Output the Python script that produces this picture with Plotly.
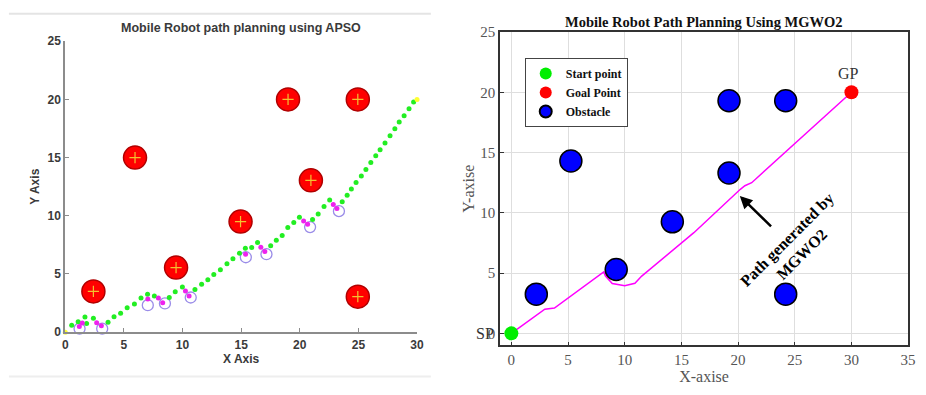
import plotly.graph_objects as go

# ---------------- Left chart (APSO) data ----------------
apso_obs_x = [2.4, 5.95, 9.45, 14.95, 19.0, 20.95, 24.95, 24.95]
apso_obs_y = [3.5, 15.0, 5.55, 9.5, 20.0, 13.05, 20.0, 3.05]

apso_path_x = [0.55, 1.1, 1.68, 1.82, 2.4, 3.65, 4.16, 4.72, 5.28, 5.9, 6.46, 7.02, 7.6,
               8.87, 9.38, 9.99, 11.06, 11.63, 12.16, 12.67, 13.23, 13.79, 14.3, 14.86,
               15.36, 15.9, 16.4, 17.52, 18.0, 18.5, 18.98, 19.49, 19.97, 21.09, 21.57,
               22.07, 22.55, 23.62, 24.04, 24.4, 24.8, 25.25, 25.64, 26.06, 26.48, 26.85,
               27.27, 27.7, 28.11, 28.48, 28.9, 29.32, 29.71]
apso_path_y = [0.6, 0.9, 1.3, 0.75, 1.2, 0.85, 1.33, 1.63, 2.1, 2.43, 2.93, 3.27, 3.1,
               2.98, 3.48, 3.89, 3.67, 4.12, 4.5, 4.95, 5.36, 5.88, 6.32, 6.79,
               7.22, 7.27, 7.7, 7.43, 7.9, 8.31, 9.0, 9.42, 9.88, 9.69, 10.16,
               10.8, 11.35, 11.21, 11.76, 12.3, 12.87, 13.42, 13.97, 14.58, 15.16, 15.68,
               16.26, 16.87, 17.48, 18.06, 18.6, 19.2, 19.78]

apso_detour_x = [1.2, 1.45, 2.68, 3.08, 7.04, 7.94, 8.31, 10.25, 10.56, 15.38, 16.68, 17.02,
                 20.33, 20.67, 22.86, 23.17]
apso_detour_y = [0.5, 0.78, 0.82, 0.55, 2.86, 2.93, 2.54, 3.54, 3.12, 6.7, 7.29, 6.93,
                 9.55, 9.28, 10.98, 10.62]

apso_check_x = [1.22, 3.15, 7.04, 8.5, 10.7, 15.4, 17.16, 20.88, 23.34]
apso_check_y = [0.3, 0.3, 2.32, 2.47, 2.98, 6.44, 6.7, 9.03, 10.4]

apso_ends_x = [0, 30]
apso_ends_y = [0, 20]

# ---------------- Right chart (MGWO2) data ----------------
mgwo_obs_x = [2.2, 5.25, 9.25, 14.2, 19.2, 19.2, 24.2, 24.2]
mgwo_obs_y = [3.25, 14.3, 5.3, 9.25, 19.3, 13.3, 19.3, 3.25]

mgwo_path_x = [0, 2.95, 3.8, 8.15, 8.3, 8.9, 10.0, 10.9, 11.5, 15.67, 16.1, 20.2, 20.6, 21.2, 30]
mgwo_path_y = [0, 2.0, 2.1, 5.1, 4.75, 4.14, 3.95, 4.16, 4.75, 8.08, 8.35, 11.95, 12.25, 12.5, 20]

start_pt = (0, 0)
goal_pt = (30, 20)

left_ticks_x = [0, 5, 10, 15, 20, 25, 30]
left_ticks_y = [0, 5, 10, 15, 20, 25]
right_ticks_x = [0, 5, 10, 15, 20, 25, 30, 35]
right_ticks_y = [0, 5, 10, 15, 20, 25]

SANS = "Liberation Sans"
SERIF = "Liberation Serif"
W, H = 926, 395

fig = go.Figure()

# ---- Left traces ----
fig.add_trace(go.Scatter(x=apso_obs_x, y=apso_obs_y, mode="markers", xaxis="x", yaxis="y",
                         marker=dict(size=23, color="#ff0000", line=dict(color="#b00000", width=1.5)),
                         showlegend=False, cliponaxis=False))
fig.add_trace(go.Scatter(x=apso_obs_x, y=apso_obs_y, mode="markers", xaxis="x", yaxis="y",
                         marker=dict(size=8, symbol="cross-thin", line=dict(color="#f2c230", width=1.2)),
                         showlegend=False, cliponaxis=False))
fig.add_trace(go.Scatter(x=apso_check_x, y=apso_check_y, mode="markers", xaxis="x", yaxis="y",
                         marker=dict(size=11, symbol="circle-open", color="#9a8ce8", line=dict(width=1.3)),
                         showlegend=False, cliponaxis=False))
fig.add_trace(go.Scatter(x=apso_path_x, y=apso_path_y, mode="markers", xaxis="x", yaxis="y",
                         marker=dict(size=5, color="#22ee22"),
                         showlegend=False, cliponaxis=False))
fig.add_trace(go.Scatter(x=apso_detour_x, y=apso_detour_y, mode="markers", xaxis="x", yaxis="y",
                         marker=dict(size=5, color="#ee22ee"),
                         showlegend=False, cliponaxis=False))
fig.add_trace(go.Scatter(x=apso_ends_x, y=apso_ends_y, mode="markers", xaxis="x", yaxis="y",
                         marker=dict(size=5, color="#ffff33"),
                         showlegend=False, cliponaxis=False))

# ---- Right traces ----
fig.add_trace(go.Scatter(x=mgwo_path_x, y=mgwo_path_y, mode="lines", xaxis="x2", yaxis="y2",
                         line=dict(color="#ff00ff", width=1.5), showlegend=False))
fig.add_trace(go.Scatter(x=[start_pt[0]], y=[start_pt[1]], mode="markers", xaxis="x2", yaxis="y2",
                         name="Start point", marker=dict(size=14, color="#00ee00")))
fig.add_trace(go.Scatter(x=[goal_pt[0]], y=[goal_pt[1]], mode="markers", xaxis="x2", yaxis="y2",
                         name="Goal Point", marker=dict(size=14, color="#ff0000")))
fig.add_trace(go.Scatter(x=mgwo_obs_x, y=mgwo_obs_y, mode="markers", xaxis="x2", yaxis="y2",
                         name="Obstacle",
                         marker=dict(size=22, color="#0000ff", line=dict(color="#000000", width=1.5))))

left_font = dict(family=SANS, size=12, color="#3a3a3a", weight="bold")
right_font = dict(family=SERIF, size=15, color="#555555")

fig.update_layout(
    width=W, height=H, margin=dict(l=0, r=0, t=0, b=0),
    paper_bgcolor="white", plot_bgcolor="white",
    xaxis=dict(domain=[63 / W, 419 / W], range=[0, 30], anchor="y",
               showline=True, linecolor="#8c8c8c", linewidth=2, mirror=False,
               ticks="inside", ticklen=4, tickcolor="#8c8c8c",
               tickvals=left_ticks_x, showgrid=False, zeroline=False,
               tickfont=left_font,
               title=dict(text="X Axis", font=left_font, standoff=2)),
    yaxis=dict(domain=[1 - 337 / H, 1 - 34.5 / H], range=[0, 25], anchor="x",
               showline=True, linecolor="#8c8c8c", linewidth=2, mirror=False,
               ticks="inside", ticklen=4, tickcolor="#8c8c8c",
               tickvals=left_ticks_y, showgrid=False, zeroline=False,
               tickfont=left_font,
               title=dict(text="Y Axis", font=left_font, standoff=5)),
    xaxis2=dict(domain=[503 / W, 916 / W], range=[-1, 35], anchor="y2",
                showline=True, linecolor="#333333", linewidth=1.5, mirror=True,
                ticks="inside", ticklen=4, tickcolor="#333333",
                tickvals=right_ticks_x, showgrid=True, gridcolor="#dedede", gridwidth=1,
                zeroline=False, tickfont=right_font,
                title=dict(text="X-axise", font=dict(family=SERIF, size=16, color="#555555"), standoff=4)),
    yaxis2=dict(domain=[1 - 350.7 / H, 1 - 25 / H], range=[-1, 25], anchor="x2",
                showline=True, linecolor="#333333", linewidth=1.5, mirror=True,
                ticks="inside", ticklen=4, tickcolor="#333333",
                tickvals=right_ticks_y, showgrid=True, gridcolor="#dedede", gridwidth=1,
                zeroline=False, tickfont=right_font,
                title=dict(text="Y-axise", font=dict(family=SERIF, size=16, color="#555555"), standoff=2)),
    legend=dict(x=528 / W, y=1 - 52 / H, xanchor="left", yanchor="top",
                bgcolor="white", bordercolor="#444444", borderwidth=1,
                font=dict(family=SERIF, size=12, color="#111111", weight="bold"),
                itemsizing="constant", itemwidth=30, tracegroupgap=0),
    shapes=[
        dict(type="line", xref="paper", yref="paper", x0=6 / W, x1=433 / W,
             y0=1 - 6 / H, y1=1 - 6 / H, line=dict(color="#e4e4e4", width=2)),
        dict(type="line", xref="paper", yref="paper", x0=6 / W, x1=433 / W,
             y0=1 - 383 / H, y1=1 - 383 / H, line=dict(color="#eeeeee", width=2)),
    ],
    annotations=[
        dict(text="Mobile Robot path planning using APSO", xref="paper", yref="paper",
             x=241 / W, y=1 - 21 / H, xanchor="center", yanchor="middle", showarrow=False,
             font=dict(family=SANS, size=12.5, color="#3a3a3a", weight="bold")),
        dict(text="Mobile Robot Path Planning Using MGWO2", xref="paper", yref="paper",
             x=709.5 / W, y=1 - 15 / H, xanchor="center", yanchor="middle", showarrow=False,
             font=dict(family=SERIF, size=14.5, color="#111111", weight="bold")),
        dict(text="Path generated by<br>MGWO2", xref="x2", yref="y2", x=24.95, y=7.18,
             textangle=-45, showarrow=False, align="center",
             font=dict(family=SERIF, size=16, color="#000000", weight="bold")),
        dict(text="", xref="x2", yref="y2", x=20.15, y=11.4, axref="x2", ayref="y2",
             ax=23.04, ay=8.75, showarrow=True, arrowhead=2, arrowsize=1, arrowwidth=2.5,
             arrowcolor="#000000"),
        dict(text="GP", xref="x2", yref="y2", x=29.7, y=20.65, yanchor="bottom", showarrow=False,
             font=dict(family=SERIF, size=16, color="#333333")),
        dict(text="SP", xref="paper", yref="y2", x=499 / W, y=0, xanchor="right", yanchor="middle",
             showarrow=False, font=dict(family=SERIF, size=16, color="#333333")),
    ],
)

fig.write_html("out.html")
